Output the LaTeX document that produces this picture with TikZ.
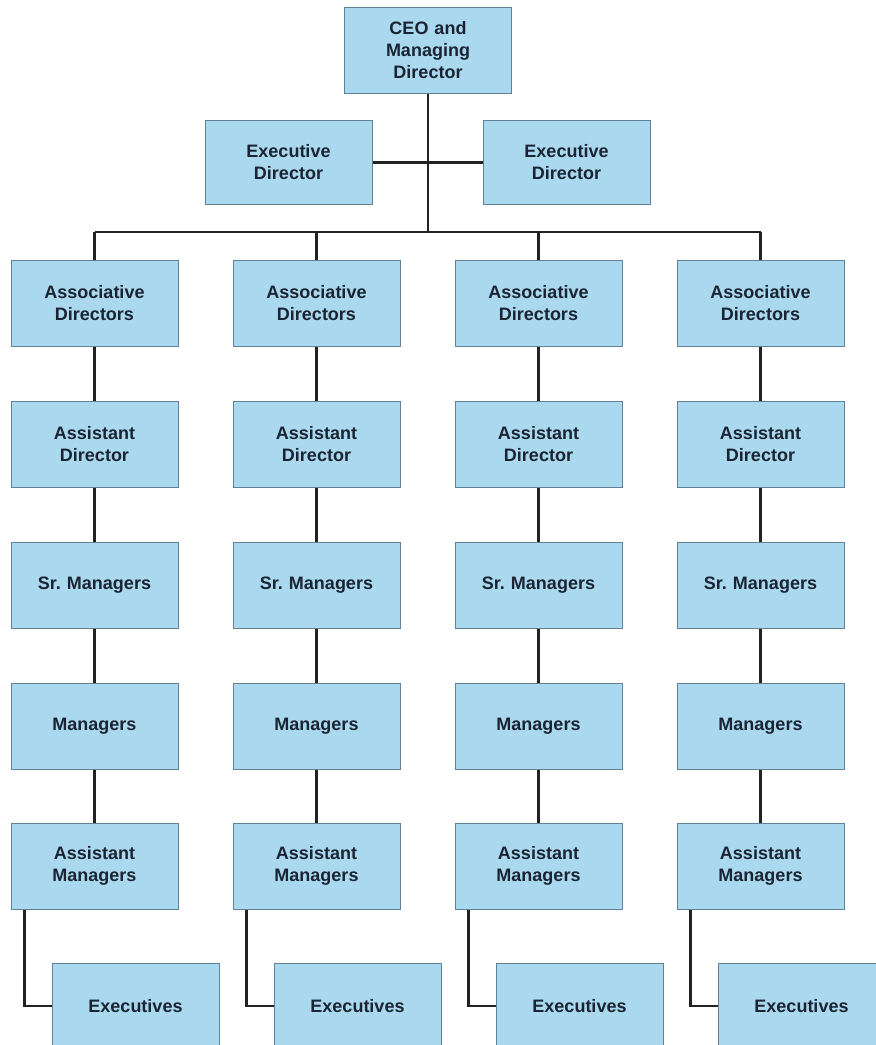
\documentclass[tikz,border=0pt]{standalone}
\usepackage{fontspec}
\setmainfont{Liberation Sans}
\usetikzlibrary{backgrounds}
\definecolor{boxfill}{HTML}{AAD8EE}
\definecolor{boxline}{HTML}{5F8299}
\definecolor{txt}{HTML}{1A2433}
\definecolor{wire}{HTML}{222222}
\begin{document}
\frenchspacing
\begin{tikzpicture}[x=1pt,y=-1pt,
  box/.style={draw=boxline,line width=0.9pt,fill=boxfill,rectangle,
    minimum width=167pt,minimum height=86pt,inner sep=0pt,
    text width=160pt,align=center,text=txt,
    font=\fontsize{18}{22}\selectfont\bfseries},
  wire/.style={draw=wire,line width=2.3pt}]
\useasboundingbox (0,0) rectangle (876,1045);
\clip (0,0) rectangle (876,1045);
% top
\node[box] (ceo) at (428,50) {CEO and\\Managing\\Director};
\node[box,minimum height=84pt] (edl) at (288.5,162.5) {Executive\\Director};
\node[box,minimum height=84pt] (edr) at (566.5,162.5) {Executive\\Director};
\coordinate (bus) at (428,232);
% columns
\foreach \i/\cx in {1/94.5,2/316.5,3/538.5,4/760.5}{
  \node[box] (ad\i) at (\cx,303) {Associative\\Directors};
  \node[box] (asd\i) at (\cx,444) {Assistant\\Director};
  \node[box] (sm\i) at (\cx,585) {Sr. Managers};
  \node[box] (m\i) at (\cx,726) {Managers};
  \node[box] (am\i) at (\cx,866) {Assistant\\Managers};
  \node[box] (ex\i) at (\cx+41,1006) {Executives};
  \coordinate (b\i) at (\cx,232);
}
\begin{scope}[on background layer]
\fill[white] (0,0) rectangle (876,1045);
\draw[wire] (ceo.south) -- (bus);
\draw[wire] (edl.east) -- (edr.west);
\draw[wire] (b1) -- (b4);
\foreach \i in {1,2,3,4}{
  \draw[wire] (b\i) -- (ad\i.north);
  \draw[wire] (ad\i) -- (asd\i);
  \draw[wire] (asd\i) -- (sm\i);
  \draw[wire] (sm\i) -- (m\i);
  \draw[wire] (m\i) -- (am\i);
  \draw[wire] (am\i.south west) ++(14,0) |- (ex\i.west);
}
\end{scope}
\end{tikzpicture}
\end{document}
